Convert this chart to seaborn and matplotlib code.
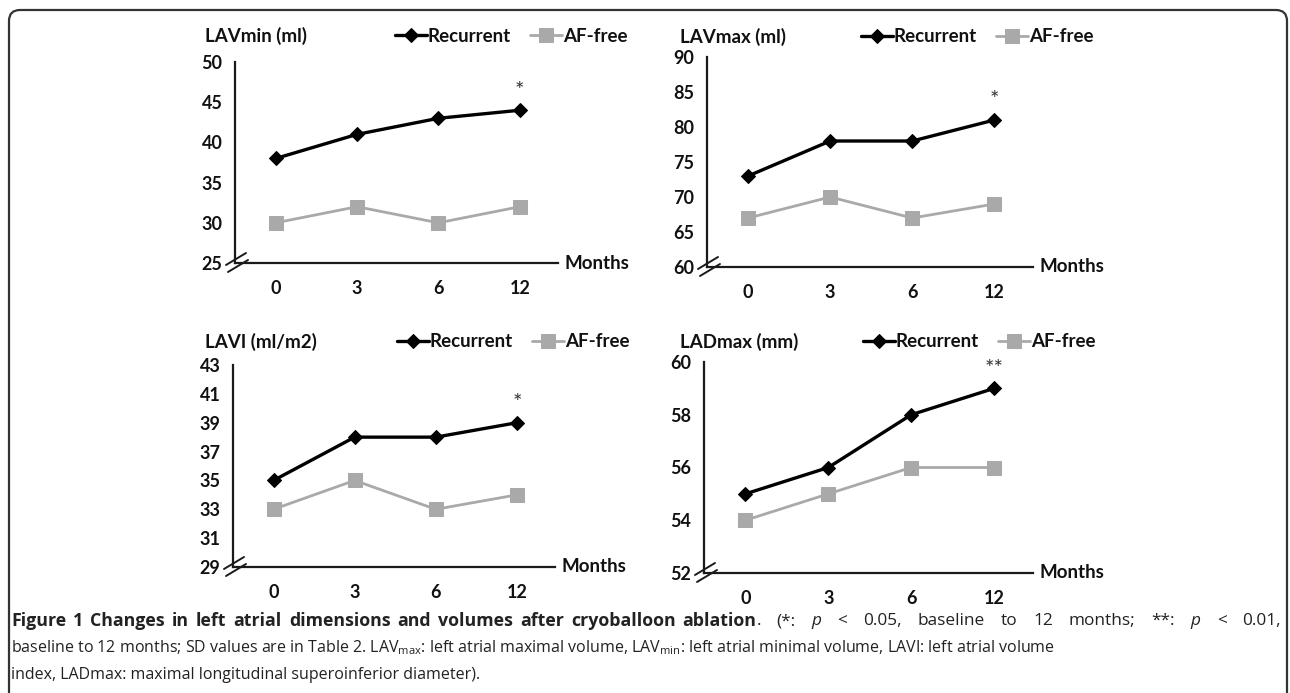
import numpy as np
import pandas as pd
import matplotlib
matplotlib.use("Agg")
import matplotlib.pyplot as plt
import seaborn as sns
from matplotlib.patches import FancyBboxPatch
from matplotlib.lines import Line2D
from matplotlib.transforms import IdentityTransform

months = ["0", "3", "6", "12"]

lavmin_rec = [38, 41, 43, 44]
lavmin_af = [30, 32, 30, 32]
lavmax_rec = [73, 78, 78, 81]
lavmax_af = [67, 70, 67, 69]
lavi_rec = [35, 38, 38, 39]
lavi_af = [33, 35, 33, 34]
ladmax_rec = [55, 56, 58, 59]
ladmax_af = [54, 55, 56, 56]

titles = ["LAVmin (ml)", "LAVmax (ml)", "LAVI (ml/m2)", "LADmax (mm)"]
stars = ["*", "*", "*", "**"]
ylims = [(25, 50), (60, 90), (29, 43), (52, 60)]
ysteps = [5, 5, 2, 2]

sns.set_style("white")
plt.rcParams["font.family"] = ["Lato", "DejaVu Sans"]
plt.rcParams["mathtext.fontset"] = "custom"
plt.rcParams["mathtext.rm"] = "Open Sans"
plt.rcParams["mathtext.it"] = "Open Sans:italic"
plt.rcParams["mathtext.bf"] = "Open Sans:bold"

W, H = 1290, 693
fig = plt.figure(figsize=(W / 100, H / 100), dpi=100)

# panel boxes in pixels: left, right, top, bottom
boxes = [(235, 558, 62, 263), (707, 1033, 57, 267), (233, 555, 365, 567), (704, 1033, 362, 573)]
title_pos = [(205, 36), (680, 37), (205, 342), (680, 342)]
legend_pos = [(395, 36), (861, 37), (397, 342), (863, 342)]

series = [(lavmin_rec, lavmin_af), (lavmax_rec, lavmax_af), (lavi_rec, lavi_af), (ladmax_rec, ladmax_af)]
tc = "#111111"
grey = "#a9a9a9"
fs = 13.5

for i, (rec, af) in enumerate(series):
    l, r, t, b = boxes[i]
    ax = fig.add_axes([l / W, 1 - b / H, (r - l) / W, (b - t) / H])
    pos = np.arange(len(months))
    df = pd.DataFrame({"pos": pos, "Recurrent": rec, "AF-free": af})
    sns.lineplot(data=df, x="pos", y="Recurrent", ax=ax, color="black", lw=2.4,
                 marker="D", markersize=7.5, markeredgecolor="black", label="Recurrent")
    sns.lineplot(data=df, x="pos", y="AF-free", ax=ax, color=grey, lw=2.0,
                 marker="s", markersize=10, markeredgecolor=grey, label="AF-free")
    ax.set_xlim(-0.5, 3.47)
    ax.set_ylim(*ylims[i])
    ax.set_yticks(np.arange(ylims[i][0], ylims[i][1] + 0.1, ysteps[i]))
    ax.set_xticks(pos)
    ax.set_xticklabels(months)
    ax.set_xlabel("")
    ax.set_ylabel("")
    for s in ["top", "right"]:
        ax.spines[s].set_visible(False)
    for s in ["left", "bottom"]:
        ax.spines[s].set_linewidth(1.6)
        ax.spines[s].set_color("#1a1a1a")
    ax.tick_params(axis="y", direction="in", length=4, width=1.2, pad=9,
                   labelsize=13, labelcolor=tc)
    ax.tick_params(axis="x", length=0, pad=12, labelsize=13, labelcolor=tc)
    for lab in ax.get_xticklabels() + ax.get_yticklabels():
        lab.set_fontweight("bold")
    ax.text(1.02, 0, "Months", transform=ax.transAxes, ha="left", va="center",
            fontsize=fs, fontweight="bold", color=tc)
    ax.annotate(stars[i], (3, rec[3]), xytext=(0, 7), textcoords="offset points",
                ha="center", va="bottom", fontsize=16, color="#333333")
    tx, ty = title_pos[i]
    fig.text(tx / W, 1 - ty / H, titles[i], ha="left", va="center", fontsize=fs,
             fontweight="bold", color=tc)
    lx, ly = legend_pos[i]
    leg = ax.legend(loc="center left", bbox_to_anchor=(lx / W, 1 - ly / H),
                    bbox_transform=fig.transFigure, ncol=2, frameon=False,
                    borderpad=0, borderaxespad=0, handlelength=1.7,
                    handletextpad=0.05, columnspacing=1.0,
                    prop={"weight": "bold", "size": fs})
    for txt in leg.get_texts():
        txt.set_color(tc)
    # axis break marks
    cx, cy = l, H - b
    for (x0, y0, x1, y1) in [(-9, -2, 11, 10), (-7, -9, 13, 3)]:
        fig.add_artist(Line2D([(cx + x0) / W, (cx + x1) / W], [(cy + y0) / H, (cy + y1) / H],
                              transform=fig.transFigure, color="#1a1a1a", lw=1.4))

# frame
frame = FancyBboxPatch((9, -30), 1278, 713, boxstyle="round,pad=0,rounding_size=11",
                       transform=IdentityTransform(), fill=False, edgecolor="#333333", lw=1.6)
fig.add_artist(frame)

# caption
renderer = fig.canvas.get_renderer()
cap_size = 11.5
cap_color = "#222222"


def put(s, x, y, weight, style, size):
    return fig.text(x / W, 1 - y / H, s, ha="left", va="center", fontsize=size,
                    family="Open Sans", fontweight=weight, fontstyle=style, color=cap_color)


# first caption line is justified: words placed one by one
bold_words = "Figure 1 Changes in left atrial dimensions and volumes after cryoballoon ablation".split()
words = [(w, "bold", "normal", False) for w in bold_words]
words += [(".", "normal", "normal", True), ("(*:", "normal", "normal", False),
          ("p", "normal", "italic", False), ("<", "normal", "normal", False),
          ("0.05,", "normal", "normal", False), ("baseline", "normal", "normal", False),
          ("to", "normal", "normal", False), ("12", "normal", "normal", False),
          ("months;", "normal", "normal", False), ("**:", "normal", "normal", False),
          ("p", "normal", "italic", False), ("<", "normal", "normal", False),
          ("0.01,", "normal", "normal", False)]
arts = []
for w, wt, st, att in words:
    t = put(w, 0, 621, wt, st, 12.8 if wt == "bold" else 12.4)
    wd = t.get_window_extent(renderer).width
    arts.append((t, wd, att, wt))
bold_gap = 7
total = sum(a[1] for a in arts)
nb = sum(1 for k, a in enumerate(arts) if k > 0 and not a[2] and a[3] == "bold")
nr = sum(1 for k, a in enumerate(arts) if k > 0 and not a[2] and a[3] != "bold")
reg_gap = (1281 - 11 - total - nb * bold_gap) / nr
x = 11
for k, (t, wd, att, wt) in enumerate(arts):
    if k > 0 and not att:
        x += bold_gap if wt == "bold" else reg_gap
    t.set_x(x / W)
    x += wd

put(r"baseline to 12 months; SD values are in Table 2. LAV$_{\mathrm{max}}$: left atrial maximal volume, "
    r"LAV$_{\mathrm{min}}$: left atrial minimal volume, LAVI: left atrial volume", 11, 648, "normal", "normal", cap_size)
put("index, LADmax: maximal longitudinal superoinferior diameter).", 11, 675, "normal", "normal", cap_size)

fig.savefig("out.png", dpi=100)
